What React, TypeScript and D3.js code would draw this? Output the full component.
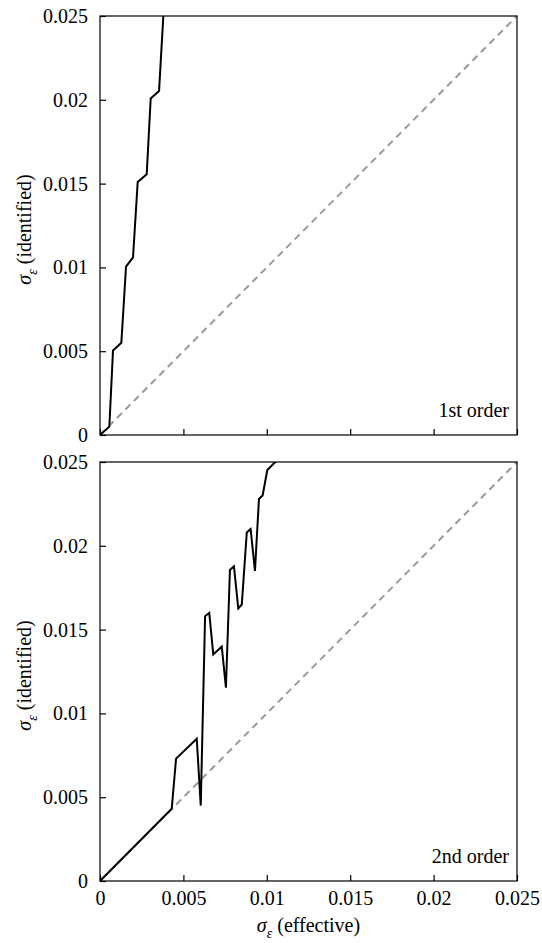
import { useRef, useEffect } from "react";
import * as d3 from "d3";

// 1st order: effective sigma vs identified sigma
const firstX = [0, 0.00056, 0.00078, 0.00128, 0.00156, 0.00198, 0.00226, 0.0028, 0.00304, 0.00354, 0.0038];
const firstY = [0, 0.0005, 0.00504, 0.0055, 0.01005, 0.0106, 0.0151, 0.01555, 0.02008, 0.02053, 0.02506];

// 2nd order
const secondX = [0, 0.0043, 0.00456, 0.0058, 0.00604, 0.0063, 0.00655, 0.00679, 0.0073, 0.00755, 0.00779, 0.00803, 0.00829, 0.0085, 0.0088, 0.00903, 0.00929, 0.00953, 0.00975, 0.01003, 0.01049, 0.0106];
const secondY = [0, 0.00431, 0.0073, 0.00849, 0.0045, 0.0158, 0.016, 0.01352, 0.01398, 0.01153, 0.01856, 0.01878, 0.01627, 0.0165, 0.0208, 0.021, 0.0185, 0.02279, 0.023, 0.02452, 0.02498, 0.02506];

const ticks = [0, 0.005, 0.01, 0.015, 0.02, 0.025];
const tickLabels = ["0", "0.005", "0.01", "0.015", "0.02", "0.025"];
const panelNames = ["1st order", "2nd order"];

const App = () => {
  const svgRef = useRef<SVGSVGElement>(null);

  useEffect(() => {
    const w = 542;
    const h = 943;
    const left = 100;
    const right = 517;
    const panels = [
      { top: 16, bottom: 435, xs: firstX, ys: firstY, name: panelNames[0], xLabels: false },
      { top: 462, bottom: 881, xs: secondX, ys: secondY, name: panelNames[1], xLabels: true },
    ];
    const font = "Liberation Serif, DejaVu Serif, serif";

    const svg = d3
      .select(svgRef.current)
      .attr("width", w)
      .attr("height", h)
      .attr("font-family", font);
    svg.selectAll("*").remove();
    svg.append("rect").attr("width", w).attr("height", h).attr("fill", "white");

    const xScale = d3.scaleLinear().domain([0, 0.025]).range([left, right]);

    panels.forEach((p, k) => {
      const yScale = d3.scaleLinear().domain([0, 0.025]).range([p.bottom, p.top]);
      const g = svg.append("g");

      const clipId = `clip-${k}`;
      svg
        .append("defs")
        .append("clipPath")
        .attr("id", clipId)
        .append("rect")
        .attr("x", left)
        .attr("y", p.top)
        .attr("width", right - left)
        .attr("height", p.bottom - p.top);

      // diagonal reference line
      const diag = d3
        .line<number>()
        .x((d) => xScale(d))
        .y((d) => yScale(d));
      g.append("path")
        .attr("d", diag([0, 0.025]))
        .attr("fill", "none")
        .attr("stroke", "#9a9a9a")
        .attr("stroke-width", 2)
        .attr("stroke-dasharray", "7,5");

      const data = p.xs.map((x, i) => [x, p.ys[i]] as [number, number]);
      const line = d3
        .line<[number, number]>()
        .x((d) => xScale(d[0]))
        .y((d) => yScale(d[1]));
      g.append("path")
        .attr("d", line(data))
        .attr("clip-path", `url(#${clipId})`)
        .attr("fill", "none")
        .attr("stroke", "black")
        .attr("stroke-width", 2)
        .attr("stroke-linejoin", "miter");

      // axes
      const yAxis = d3
        .axisLeft(yScale)
        .tickValues(ticks)
        .tickSizeInner(-6)
        .tickSizeOuter(0)
        .tickPadding(12)
        .tickFormat((d, i) => tickLabels[i]);
      const ya = g.append("g").attr("transform", `translate(${left},0)`).call(yAxis);

      const xAxis = d3
        .axisBottom(xScale)
        .tickValues(ticks)
        .tickSizeInner(-6)
        .tickSizeOuter(0)
        .tickPadding(10)
        .tickFormat((d, i) => (p.xLabels ? tickLabels[i] : ""));
      const xa = g.append("g").attr("transform", `translate(0,${p.bottom})`).call(xAxis);

      [ya, xa].forEach((a) => {
        a.attr("font-family", font).attr("font-size", 20);
        a.select(".domain").remove();
        a.selectAll("line").attr("stroke", "black").attr("stroke-width", 1.2);
        a.selectAll("text").attr("fill", "black");
      });

      // frame
      g.append("rect")
        .attr("x", left)
        .attr("y", p.top)
        .attr("width", right - left)
        .attr("height", p.bottom - p.top)
        .attr("fill", "none")
        .attr("stroke", "black")
        .attr("stroke-width", 1.2);

      g.append("text")
        .attr("x", right - 8)
        .attr("y", p.bottom - 18)
        .attr("text-anchor", "end")
        .attr("font-size", 20)
        .text(p.name);

      // y label
      const yl = g
        .append("text")
        .attr("transform", `translate(31,${(p.top + p.bottom) / 2 + 4}) rotate(-90)`)
        .attr("text-anchor", "middle")
        .attr("font-size", 20);
      yl.append("tspan").attr("font-style", "italic").text("σ");
      yl.append("tspan").attr("font-style", "italic").attr("font-size", 14).attr("dy", 6).text("ε");
      yl.append("tspan").attr("dy", -6).text(" (identified)");
    });

    const xl = svg
      .append("text")
      .attr("x", (left + right) / 2)
      .attr("y", 932)
      .attr("text-anchor", "middle")
      .attr("font-size", 20);
    xl.append("tspan").attr("font-style", "italic").text("σ");
    xl.append("tspan").attr("font-style", "italic").attr("font-size", 14).attr("dy", 6).text("ε");
    xl.append("tspan").attr("dy", -6).text(" (effective)");
  }, []);

  return (
    <div style={{ position: "absolute", left: 0, top: 0 }}>
      <svg ref={svgRef} style={{ display: "block" }}></svg>
    </div>
  );
};

export default App;
